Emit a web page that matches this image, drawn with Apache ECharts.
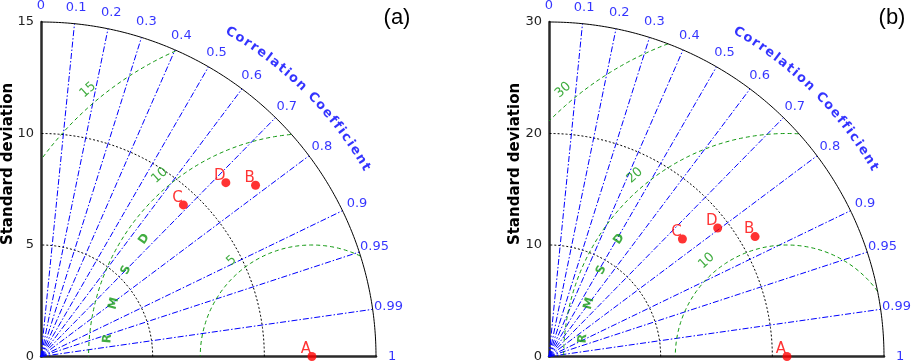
<!DOCTYPE html>
<html>
<head>
<meta charset="utf-8">
<script src="https://cdn.jsdelivr.net/npm/echarts@6/dist/echarts.min.js"></script>
<style>
  html, body { margin: 0; padding: 0; background: #fff; }
  #chart { width: 913px; height: 363px; }
</style>
</head>
<body>
<div id="chart"></div>
<script>
// correlation ticks drawn as rays + labels
const corrTicks = [0, 0.1, 0.2, 0.3, 0.4, 0.5, 0.6, 0.7, 0.8, 0.9, 0.95, 0.99, 1];
const corrRays = [0.1, 0.2, 0.3, 0.4, 0.5, 0.6, 0.7, 0.8, 0.9, 0.95, 0.99];
const modelNames = ['A', 'B', 'C', 'D'];
const rmsdLetters = ['R', 'M', 'S', 'D'];

// panel (a)
const stdMaxA = 15;
const stdTicksA = [0, 5, 10, 15];
const stdArcsA = [5, 10];
const rmsdTicksA = [5, 10, 15];
const stdA = [12.13, 12.3, 9.32, 11.37];
const corrA = [1, 0.781, 0.684, 0.728];

// panel (b)
const stdMaxB = 30;
const stdTicksB = [0, 10, 20, 30];
const stdArcsB = [10, 20];
const rmsdTicksB = [10, 20, 30];
const stdB = [21.31, 21.36, 15.93, 19.0];
const corrB = [1, 0.864, 0.75, 0.795];

const FONT = 'DejaVu Sans';
const BLUE = '#0000ff';
const GREEN = '#119911';
const RED = '#ff0000';
const deg = Math.PI / 180;

function arc(cx, r, a0, a1, n) {
  const pts = [];
  for (let k = 0; k <= n; k++) {
    const a = (a0 + (a1 - a0) * k / n) * deg;
    pts.push([cx + r * Math.cos(a), r * Math.sin(a)]);
  }
  return pts;
}

function polar(s, c) {
  return [s * c, s * Math.sqrt(Math.max(0, 1 - c * c))];
}

function letterWidths(text, font) {
  const ctx = document.createElement('canvas').getContext('2d');
  ctx.font = font;
  return text.split('').map((ch) => ctx.measureText(ch).width + 2.2);
}

function panelSeries(idx, max, stdArcs, rmsdTicks, stds, corrs) {
  const ax = { xAxisIndex: idx, yAxisIndex: idx, silent: true, animation: false };
  const ref = stds[0];
  const out = [];

  // outer arc
  out.push({ ...ax, type: 'line', showSymbol: false, clip: false, z: 3,
    lineStyle: { color: '#000', width: 1 }, data: arc(0, max, 0, 90, 180) });

  // std arcs
  stdArcs.forEach((s) => out.push({ ...ax, type: 'line', showSymbol: false, clip: false, z: 2,
    lineStyle: { color: '#000', width: 1, type: [2, 2] }, data: arc(0, s, 0, 90, 120) }));

  // correlation rays
  corrRays.forEach((c) => out.push({ ...ax, type: 'line', showSymbol: false, clip: false, z: 2,
    lineStyle: { color: BLUE, width: 1, type: [6, 2, 1.5, 2] }, data: [[0, 0], polar(max, c)] }));

  // rmsd arcs around the reference point
  rmsdTicks.forEach((rm) => {
    const pts = arc(ref, rm, 0, 180, 900).filter(([x, y]) => x >= 0 && y >= 0 && x * x + y * y <= max * max * 1.0005);
    out.push({ ...ax, type: 'line', showSymbol: false, clip: false, z: 2,
      lineStyle: { color: GREEN, width: 1, type: [4, 3] }, data: pts });
  });

  // correlation labels
  out.push({ ...ax, type: 'scatter', symbolSize: 0, clip: false, z: 5,
    label: { show: true, position: 'inside', fontFamily: FONT, fontSize: 13, color: BLUE },
    data: corrTicks.map((c) => ({ value: polar(max * 1.048, c), label: { formatter: String(c) } })) });

  // curved axis title
  const title = 'Correlation Coefficient';
  const font = 'bold 13px ' + FONT;
  const w = letterWidths(title, font);
  const centers = [];
  let acc = 0;
  w.forEach((wi) => { centers.push(acc + wi / 2); acc += wi; });
  const first = centers[0], last = centers[centers.length - 1];
  const a0 = 59.7, a1 = 30.3;
  out.push({ ...ax, type: 'scatter', symbolSize: 0, clip: false, z: 5,
    label: { show: true, position: 'inside', fontFamily: FONT, fontSize: 13, fontWeight: 'bold', color: BLUE },
    data: title.split('').map((ch, k) => {
      const a = a0 + (a1 - a0) * (centers[k] - first) / (last - first);
      return { value: [max * 1.122 * Math.cos(a * deg), max * 1.122 * Math.sin(a * deg)],
        label: { formatter: ch === ' ' ? '' : ch, rotate: a - 90 } };
    }) });

  // rmsd tick labels
  out.push({ ...ax, type: 'scatter', symbolSize: 0, clip: false, z: 5,
    label: { show: true, position: 'inside', fontFamily: FONT, fontSize: 13, color: GREEN },
    data: rmsdTicks.map((rm) => {
      const r = rm + 0.04 * max, a = 130 * deg;
      return { value: [ref + r * Math.cos(a), r * Math.sin(a)], label: { formatter: String(rm), rotate: 42 } };
    }) });

  // RMSD letters
  out.push({ ...ax, type: 'scatter', symbolSize: 0, clip: false, z: 5,
    label: { show: true, position: 'inside', fontFamily: FONT, fontSize: 12, fontWeight: 'bold', color: GREEN },
    data: rmsdLetters.map((ch, k) => {
      const a = 175 - 10 * k, r = 0.612 * max;
      return { value: [ref + r * Math.cos(a * deg), r * Math.sin(a * deg)], label: { formatter: ch, rotate: a - 90 } };
    }) });

  // models
  out.push({ ...ax, type: 'scatter', symbolSize: 9, clip: false, z: 10,
    itemStyle: { color: RED },
    label: { show: true, position: 'top', distance: 0, offset: [-6, 5], fontFamily: FONT, fontSize: 15, color: RED,
      formatter: (p) => modelNames[p.dataIndex] },
    data: stds.map((s, k) => polar(s, corrs[k])) });

  return out;
}

function xAxisFor(idx, max) {
  return { gridIndex: idx, type: 'value', min: 0, max: max,
    axisLine: { lineStyle: { color: '#2a2a2a', width: 2.5 } },
    axisTick: { show: false }, axisLabel: { show: false }, splitLine: { show: false } };
}

function yAxisFor(idx, max, ticks) {
  return { gridIndex: idx, type: 'value', min: 0, max: max, interval: ticks[1] - ticks[0],
    axisLine: { show: true, lineStyle: { color: '#2a2a2a', width: 2.5 } },
    axisTick: { show: false }, splitLine: { show: false },
    axisLabel: { margin: 7, fontFamily: FONT, fontSize: 13, color: '#222' } };
}

const chart = echarts.init(document.getElementById('chart'));
chart.setOption({
  animation: false,
  backgroundColor: '#fff',
  grid: [
    { left: 41, top: 22, width: 335, height: 335 },
    { left: 549, top: 22, width: 335, height: 335 }
  ],
  xAxis: [xAxisFor(0, stdMaxA), xAxisFor(1, stdMaxB)],
  yAxis: [yAxisFor(0, stdMaxA, stdTicksA), yAxisFor(1, stdMaxB, stdTicksB)],
  graphic: [
    { type: 'text', x: 8, y: 164, rotation: Math.PI / 2,
      style: { text: 'Standard deviation', font: 'bold 15px ' + FONT, fill: '#000', align: 'center', verticalAlign: 'middle' } },
    { type: 'text', x: 515, y: 164, rotation: Math.PI / 2,
      style: { text: 'Standard deviation', font: 'bold 15px ' + FONT, fill: '#000', align: 'center', verticalAlign: 'middle' } },
    { type: 'text', x: 397, y: 18,
      style: { text: '(a)', font: '22px Liberation Sans', fill: '#000', align: 'center', verticalAlign: 'middle' } },
    { type: 'text', x: 892, y: 18,
      style: { text: '(b)', font: '22px Liberation Sans', fill: '#000', align: 'center', verticalAlign: 'middle' } }
  ],
  series: [
    ...panelSeries(0, stdMaxA, stdArcsA, rmsdTicksA, stdA, corrA),
    ...panelSeries(1, stdMaxB, stdArcsB, rmsdTicksB, stdB, corrB)
  ]
});
</script>
</body>
</html>
